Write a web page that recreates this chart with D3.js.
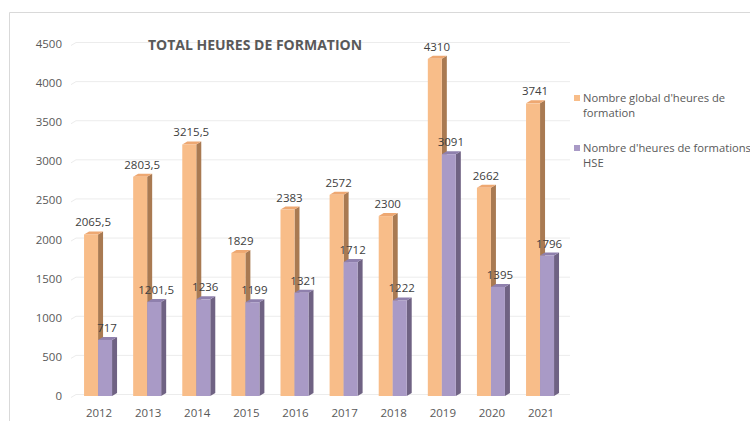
<!DOCTYPE html>
<html><head><meta charset="utf-8">
<script src="https://cdn.jsdelivr.net/npm/d3@7"></script>
<style>body{margin:0;background:#fff;}svg{display:block;font-family:"Open Sans",sans-serif;}</style>
</head><body>
<svg id="c" width="750" height="421"></svg>
<script>
const years = ["2012","2013","2014","2015","2016","2017","2018","2019","2020","2021"];
const globalHours = [2065.5, 2803.5, 3215.5, 1829, 2383, 2572, 2300, 4310, 2662, 3741];
const hseHours = [717, 1201.5, 1236, 1199, 1321, 1712, 1222, 3091, 1395, 1796];
const yTicks = [0,500,1000,1500,2000,2500,3000,3500,4000,4500];
const seriesNames = [["Nombre global d'heures de","formation"],["Nombre d'heures de formations","HSE"]];
const title = "TOTAL HEURES DE FORMATION";

const svg = d3.select("#c");
const x = d3.scaleBand().domain(years).range([74.5, 565.6]);
const y = d3.scaleLinear().domain([0,4500]).range([396, 44]);
const fmt = v => String(v).replace(".", ",");
const txt = "#595959";

// frame
svg.append("path").attr("d","M9.5,421 L9.5,12.5 L750,12.5").attr("fill","none").attr("stroke","#d9d9d9");

// gridlines
svg.append("g").selectAll("line").data(yTicks).join("line")
  .attr("x1",76).attr("x2",570).attr("y1",d=>y(d)-1.5).attr("y2",d=>y(d)-1.5)
  .attr("stroke","#ececec").attr("stroke-width",1);
svg.append("g").selectAll("line").data(yTicks).join("line")
  .attr("x1",71).attr("x2",76).attr("y1",d=>y(d)+1.5).attr("y2",d=>y(d)-1.5)
  .attr("stroke","#ececec").attr("stroke-width",1);

// y axis labels
svg.append("g").selectAll("text").data(yTicks).join("text")
  .attr("x",62).attr("y",d=>y(d)).attr("dy","0.35em").attr("text-anchor","end")
  .attr("font-size",11.5).attr("fill",txt).text(d=>d);

// x axis labels
svg.append("g").selectAll("text").data(years).join("text")
  .attr("x",d=>x(d)+x.bandwidth()/2).attr("y",413).attr("dy","0.35em").attr("text-anchor","middle")
  .attr("font-size",11.5).attr("fill",txt).text(d=>d);

const W = 14, DX = 5, DY = 3;
function bars(vals, off, front, side, top) {
  const g = svg.append("g");
  years.forEach((yr,i)=>{
    const x0 = x(yr)+x.bandwidth()/2+off, y0 = y(vals[i]), b = y(0);
    g.append("path").attr("d",`M${x0+W},${y0} L${x0+W+DX},${y0-DY} L${x0+W+DX},${b-DY} L${x0+W},${b}Z`).attr("fill",side);
    g.append("path").attr("d",`M${x0},${y0} L${x0+DX},${y0-DY} L${x0+W+DX},${y0-DY} L${x0+W},${y0}Z`).attr("fill",top);
    g.append("rect").attr("x",x0).attr("y",y0).attr("width",W).attr("height",b-y0).attr("fill",front);
  });
}
bars(globalHours, -15, "#f8bd89", "#a97a52", "#eea872");
bars(hseHours, -1, "#a99ac6", "#6f6283", "#8f80ad");

function labels(vals, off) {
  svg.append("g").selectAll("text").data(vals).join("text")
    .attr("x",(d,i)=>x(years[i])+x.bandwidth()/2+off+W/2+2)
    .attr("y",d=>y(d)-8).attr("text-anchor","middle")
    .attr("font-size",11.5).attr("fill","#404040").text(d=>fmt(d));
}
labels(globalHours, -15);
labels(hseHours, -1);

// title
svg.append("text").attr("x",255).attr("y",50).attr("text-anchor","middle")
  .attr("font-size",14).attr("font-weight","bold").attr("fill",txt).text(title);

// legend
const colors = ["#f8bd89","#a99ac6"];
const lg = svg.append("g");
[98,148].forEach((ly,i)=>{
  lg.append("rect").attr("x",574).attr("y",ly-3).attr("width",6).attr("height",6).attr("fill",colors[i]);
  seriesNames[i].forEach((line,j)=>{
    lg.append("text").attr("x",583).attr("y",ly+j*15).attr("dy","0.35em")
      .attr("font-size",11.2).attr("fill",txt).text(line);
  });
});
</script>
</body></html>
